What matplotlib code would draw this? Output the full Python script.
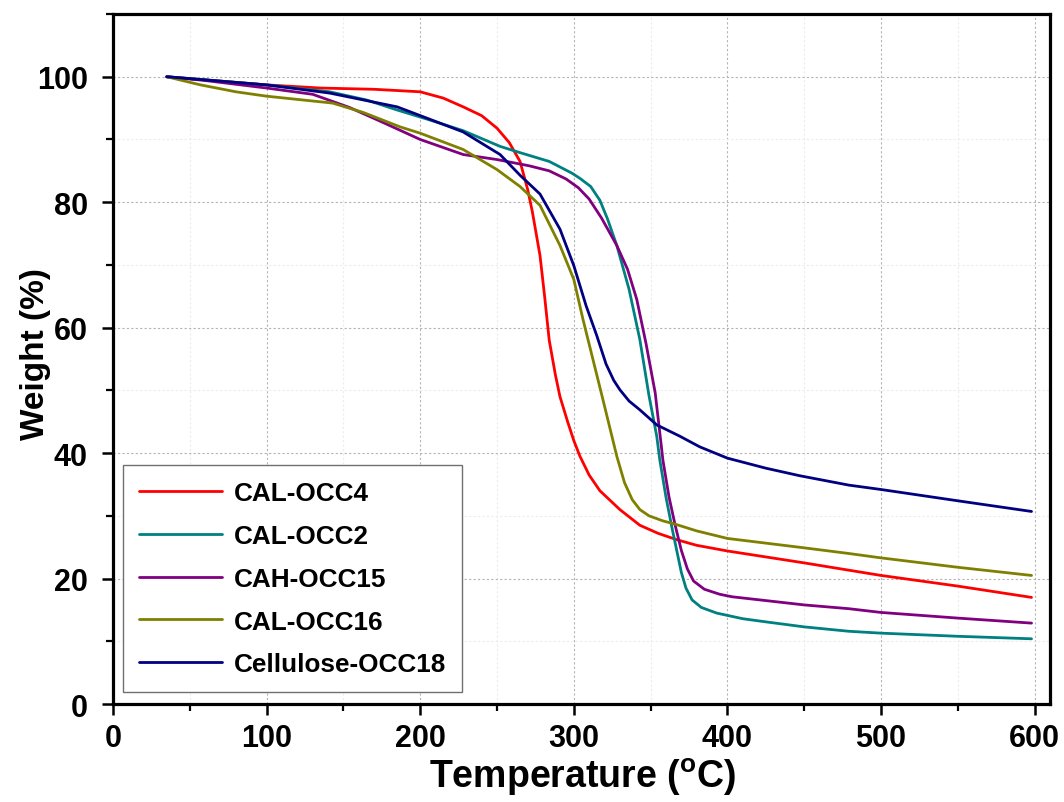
import matplotlib
matplotlib.use("Agg")
import matplotlib.pyplot as plt
from matplotlib.ticker import MultipleLocator

# ---- data ----
labels = ["CAL-OCC4", "CAL-OCC2", "CAH-OCC15", "CAL-OCC16", "Cellulose-OCC18"]
colors = ["#ff0000", "#008080", "#800080", "#808000", "#000080"]

t_occ4 = [35, 60, 100, 135, 170, 200, 215, 228, 240, 250, 258, 265, 270, 273, 278, 281, 284, 288, 291, 296, 300, 304, 310, 317, 330, 343, 355, 367, 380, 400, 450, 500, 550, 598]
w_occ4 = [100, 99.5, 98.7, 98.2, 98.0, 97.6, 96.6, 95.2, 93.8, 91.8, 89.5, 86.5, 82.0, 78.5, 71.5, 65.0, 58.0, 52.5, 49.0, 45.0, 42.0, 39.5, 36.5, 34.0, 31.0, 28.5, 27.2, 26.2, 25.3, 24.4, 22.5, 20.5, 18.8, 17.0]

t_occ2 = [35, 60, 100, 141, 165, 185, 205, 228, 252, 265, 284, 299, 304, 311, 317, 322, 328, 336, 343, 349, 354, 356, 360, 364, 367, 370, 373, 377, 383, 393, 410, 425, 450, 479, 500, 550, 598]
w_occ2 = [100, 99.5, 98.7, 97.6, 96.3, 94.7, 93.2, 91.4, 88.9, 87.9, 86.5, 84.6, 83.8, 82.5, 80.3, 77.3, 73.1, 66.1, 58.1, 49.1, 42.7, 38.9, 33.0, 28.0, 24.5, 21.0, 18.5, 16.6, 15.4, 14.5, 13.6, 13.1, 12.3, 11.6, 11.3, 10.8, 10.4]

t_occ15 = [35, 60, 100, 130, 154, 175, 200, 228, 250, 271, 284, 295, 303, 310, 318, 328, 335, 341, 347, 353, 357, 358, 362, 366, 370, 374, 378, 385, 395, 403, 450, 479, 500, 550, 598]
w_occ15 = [100, 99.4, 98.2, 97.2, 95.1, 92.8, 90.0, 87.6, 86.8, 85.8, 85.0, 83.7, 82.3, 80.5, 77.5, 73.1, 69.3, 64.5, 57.5, 49.6, 41.1, 38.9, 33.0, 28.5, 24.5, 21.5, 19.6, 18.3, 17.5, 17.1, 15.8, 15.2, 14.6, 13.7, 12.9]

t_occ16 = [35, 57, 80, 100, 143, 163, 187, 200, 228, 250, 265, 278, 291, 300, 306, 312.5, 319, 328, 333, 338, 343, 349, 358, 367, 380, 400, 450, 479, 500, 550, 598]
w_occ16 = [100, 98.7, 97.6, 96.9, 95.8, 94.3, 92.0, 91.0, 88.4, 85.2, 82.5, 79.5, 73.1, 67.7, 61.3, 54.9, 48.5, 39.5, 35.3, 32.6, 31.0, 30.0, 29.2, 28.6, 27.6, 26.4, 24.9, 24.0, 23.3, 21.8, 20.5]

t_occ18 = [35, 60, 100, 141, 185, 228, 252, 265, 278, 291, 300, 308, 315, 321, 326, 330, 336, 343, 354, 369, 382, 400, 425, 447, 479, 500, 550, 598]
w_occ18 = [100, 99.5, 98.7, 97.4, 95.2, 91.2, 87.6, 84.3, 81.3, 75.7, 69.9, 63.5, 58.7, 54.2, 51.6, 50.1, 48.3, 46.9, 44.5, 42.7, 41.0, 39.2, 37.6, 36.4, 34.9, 34.2, 32.4, 30.7]

series_t = [t_occ4, t_occ2, t_occ15, t_occ16, t_occ18]
series_w = [w_occ4, w_occ2, w_occ15, w_occ16, w_occ18]

xticks = [0, 100, 200, 300, 400, 500, 600]
yticks = [0, 20, 40, 60, 80, 100]

# ---- style ----
plt.rcParams['font.family'] = ['Liberation Sans', 'DejaVu Sans']
plt.rcParams['font.weight'] = 'bold'
plt.rcParams['mathtext.default'] = 'regular'

fig = plt.figure(figsize=(10.64, 8.03), dpi=100)
ax = fig.add_axes([0.1062, 0.122, 0.8806, 0.8593])

for t, w, c, lab in zip(series_t, series_w, colors, labels):
    ax.plot(t, w, color=c, lw=2.0, label=lab, solid_capstyle='round', solid_joinstyle='round')

ax.set_xlim(0, 610)
ax.set_ylim(0, 110)
ax.set_xticks(xticks)
ax.set_yticks(yticks)
ax.xaxis.set_minor_locator(MultipleLocator(50))
ax.yaxis.set_minor_locator(MultipleLocator(10))

ax.grid(which='major', color='#b4b4b4', linestyle=(0, (2, 2)), linewidth=0.8)
ax.grid(which='minor', color='#ececec', linestyle=(0, (2, 2)), linewidth=0.8)
ax.set_axisbelow(True)

for s in ax.spines.values():
    s.set_linewidth(2.3)

ax.tick_params(which='major', direction='out', length=8, width=1.8, labelsize=22)
ax.tick_params(axis='y', which='major', pad=10)
ax.tick_params(axis='x', which='major', pad=6)
ax.tick_params(which='minor', direction='out', length=5, width=1.6)
for lbl in ax.get_xticklabels() + ax.get_yticklabels():
    lbl.set_fontweight('bold')

ax.set_xlabel(r'Temperature ($^{o}$C)', fontsize=27, fontweight='bold')
ax.set_ylabel('Weight (%)', fontsize=24, fontweight='bold')
ax.xaxis.set_label_coords(0.501, -0.075)
ax.yaxis.set_label_coords(-0.066, 0.509)

leg = ax.legend(loc='lower left', bbox_to_anchor=(0.0107, 0.0174), fontsize=18.8,
                frameon=True, fancybox=False, edgecolor='#707070', framealpha=1,
                handlelength=3.2, handletextpad=0.45, labelspacing=0.72,
                borderpad=0.6, borderaxespad=0.0)
leg.get_frame().set_linewidth(1.0)
for txt in leg.get_texts():
    txt.set_fontweight('bold')

fig.savefig('out.png', dpi=100)
